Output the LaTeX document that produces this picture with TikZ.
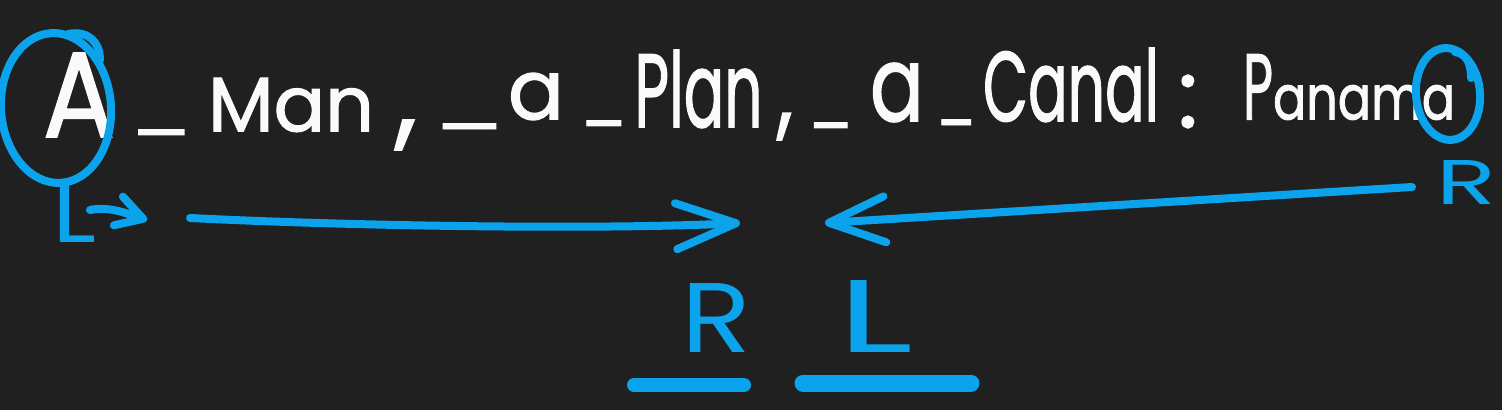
\documentclass[tikz,border=0pt]{standalone}
\usepackage{fontspec}
\setmainfont{Poppins}
\newfontfamily\handfont{Poppins}[FakeBold=1.5]
\usepackage{graphicx}
\usetikzlibrary{arrows.meta}
\definecolor{bg}{RGB}{32,32,32}
\definecolor{ink}{RGB}{250,250,250}
\definecolor{pen}{RGB}{10,163,236}
\newcommand{\fitbox}[3]{\resizebox*{#1pt}{#2pt}{#3}}
\begin{document}
\begin{tikzpicture}[x=1pt,y=-1pt,
  word/.style={inner sep=0pt, outer sep=0pt, text=ink, anchor=center, font=\handfont},
  penword/.style={inner sep=0pt, outer sep=0pt, text=pen, anchor=center},
  penline/.style={draw=pen, line width=8pt, line cap=round, line join=round},
  barbed/.style={-{Straight Barb[length=#1pt, width=46pt, line cap=round, line join=round]}}
]
\fill[bg] (0,0) rectangle (1502,410);
\useasboundingbox (0,0) rectangle (1502,410);

% the sentence
\node[word] (tA)  at (79,95)     {\fitbox{72}{84}{A}};
\node[word] (u1)  at (161,131)   {\fitbox{62}{8}{\_}};
\node[word] (tMan) at (291,105)  {\fitbox{166}{54}{Man}};
\node[word] (c1)  at (406,135)   {\fitbox{22}{30}{,}};
\node[word] (u2)  at (469,125)   {\fitbox{72}{8}{\_}};
\node[word] (ta1) at (536,96.5)  {\fitbox{56}{47}{a}};
\node[word] (u3)  at (603.5,122) {\fitbox{47}{8}{\_}};
\node[word] (tPlan) at (698.5,89) {\fitbox{128}{78}{Plan}};
\node[word] (c2)  at (785,126.5) {\fitbox{16}{27}{,}};
\node[word] (u4)  at (830.5,124) {\fitbox{45}{8}{\_}};
\node[word] (ta2) at (897,92.5)  {\fitbox{54}{59}{a}};
\node[word] (u5)  at (956,121)   {\fitbox{40}{8}{\_}};
\node[word] (tCanal) at (1071,85) {\fitbox{176}{74}{Canal}};
\node[word] (col) at (1188,101.5) {\fitbox{20}{53}{:}};
\node[word, anchor=south west] (tPanama) at (1243,120) {\fitbox{30}{65}{P}\fitbox{182}{35}{anama}};

% circles
\draw[penline, rotate around={4:(56,108)}] (56,108) ellipse [x radius=55pt, y radius=75pt];
\draw[penline] (68,34) .. controls (88,30) and (100,42) .. (100,60);
\draw[penline, rotate around={5:(1448,94)}] (1448,94) ellipse [x radius=32pt, y radius=46pt];
\draw[penline] (1455,52) .. controls (1466,54) and (1471,62) .. (1471,78);

% pointer labels
\node[penword] (Lst) at (75,211) {\fitbox{44}{62}{L}};
\node[penword] (Rst) at (1466,182) {\fitbox{60}{44}{R}};
\node[penword] (Rmid) at (717,317.5) {\fitbox{70}{69}{R}};
\node[penword] (Lmid) at (876,316) {\fitbox{76}{72}{L}};

% arrows
\coordinate (s0) at (90,210);
\coordinate (s1) at (147,220);
\draw[penline, -{Straight Barb[length=26pt, width=30pt, line cap=round, line join=round]}] (s0) .. controls (110,206) and (128,214) .. (s1);

\coordinate (l0) at (190,218);
\coordinate (l1) at (740,223);
\draw[penline, barbed=60] (l0) .. controls (350,226) and (600,230) .. (l1);

\coordinate (r0) at (1412,187);
\coordinate (r1) at (825,223);
\draw[penline, barbed=56] (r0) -- (r1);

% underlines
\coordinate (ur0) at (634,385);
\coordinate (ur1) at (744,385);
\draw[penline, line width=14pt] (ur0) -- (ur1);
\coordinate (ul0) at (803,383);
\coordinate (ul1) at (971,383);
\draw[penline, line width=17pt] (ul0) -- (ul1);
\end{tikzpicture}
\end{document}
